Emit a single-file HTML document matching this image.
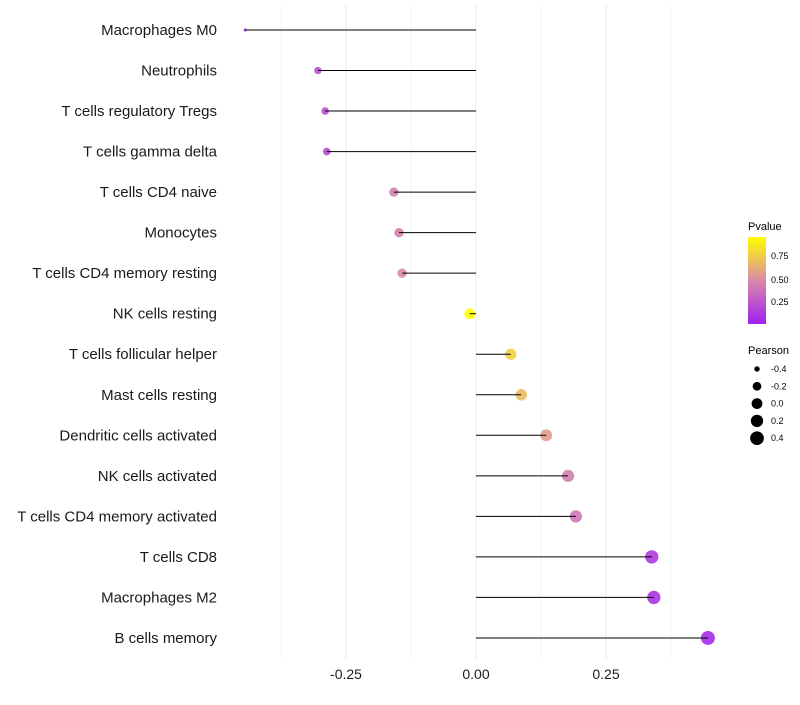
<!DOCTYPE html>
<html><head><meta charset="utf-8"><style>
body{margin:0;background:#fff;font-family:"Liberation Sans",Arial,sans-serif}
</style></head><body>
<svg id="chart" width="800" height="700" xmlns="http://www.w3.org/2000/svg">
<defs><linearGradient id="pg" x1="0" y1="1" x2="0" y2="0">
<stop offset="0" stop-color="#a020f0"/><stop offset="0.5" stop-color="#d98aa8"/><stop offset="1" stop-color="#ffff00"/></linearGradient></defs>
<g id="grid"></g><g id="points"></g><g id="marks"></g><g id="ylabels"></g><g id="xticks"></g>
<g>
<text x="748" y="230" font-size="11" fill="#000">Pvalue</text>
<rect x="748" y="237" width="18" height="87" fill="url(#pg)"/>
<text x="771" y="259" font-size="9">0.75</text>
<text x="771" y="283" font-size="9">0.50</text>
<text x="771" y="305" font-size="9">0.25</text>
</g>
<g id="sizeleg">
<text x="748" y="354" font-size="11" fill="#000">Pearson</text>
</g>
</svg>
<script>
const categories=["Macrophages M0","Neutrophils","T cells regulatory  Tregs","T cells gamma delta","T cells CD4 naive","Monocytes","T cells CD4 memory resting","NK cells resting","T cells follicular helper","Mast cells resting","Dendritic cells activated","NK cells activated","T cells CD4 memory activated","T cells CD8","Macrophages M2","B cells memory"];
const pearson=[-0.444,-0.304,-0.29,-0.287,-0.158,-0.148,-0.142,-0.012,0.067,0.087,0.135,0.177,0.192,0.338,0.342,0.446];
const pvalue=[0.05,0.22,0.22,0.2,0.45,0.45,0.5,1.0,0.8,0.72,0.58,0.45,0.4,0.12,0.1,0.05];
const xTicks=[-0.25,0,0.25];
const xTickLabels=["-0.25","0.00","0.25"];
const sizeLegend=[-0.4,-0.2,0.0,0.2,0.4];
const NS="http://www.w3.org/2000/svg";
const x=v=>476+v*520;
const y=i=>30+i*40.53;
const r=v=>1.5+5.5*Math.sqrt(Math.max(0,(v+0.444)/0.89));
function col(p){
  const a=[160,32,240],m=[217,138,168],b=[255,255,0];let c;
  if(p<0.5){const t=p/0.5;c=a.map((v,k)=>v+(m[k]-v)*t);}else{const t=(p-0.5)/0.5;c=m.map((v,k)=>v+(b[k]-v)*t);}
  return `rgb(${c.map(Math.round).join(',')})`;
}
function mk(tag,attrs,parent){const e=document.createElementNS(NS,tag);for(const k in attrs)e.setAttribute(k,attrs[k]);document.getElementById(parent).appendChild(e);return e;}
[-0.375,-0.25,-0.125,0,0.125,0.25,0.375].forEach(v=>{
  const l=mk('line',{x1:x(v),x2:x(v),y1:5,y2:660,stroke:'#ebebeb','stroke-width':Number.isInteger(v*4)?1:0.5},'grid');
  
  
});
categories.forEach((c,i)=>{
  const p=mk('circle',{cx:x(pearson[i]),cy:y(i),r:r(pearson[i]),fill:col(pvalue[i]),'fill-opacity':0.9},'points');
  
  
  const l=mk('line',{x1:x(0),x2:x(pearson[i]),y1:y(i),y2:y(i),stroke:'#000','stroke-width':1},'marks');
  
  
  const t=mk('text',{x:217,y:y(i)+5,'text-anchor':'end','font-size':15,fill:'#1a1a1a'},'ylabels');
  t.textContent=c;
  
  
});
xTicks.forEach((v,i)=>{
  const t=mk('text',{x:x(v),y:679,'text-anchor':'middle','font-size':14,fill:'#1a1a1a'},'xticks');
  t.textContent=xTickLabels[i];
  
  
});
sizeLegend.forEach((v,i)=>{
  const cy=369+i*17.3;
  const c=mk('circle',{cx:757,cy:cy,r:r(v),fill:'#000'},'sizeleg');
  
  
  const t=mk('text',{x:771,y:cy+3,'font-size':9},'sizeleg');
  t.textContent=v.toFixed(1);
  
  
});
</script>
</body></html>
